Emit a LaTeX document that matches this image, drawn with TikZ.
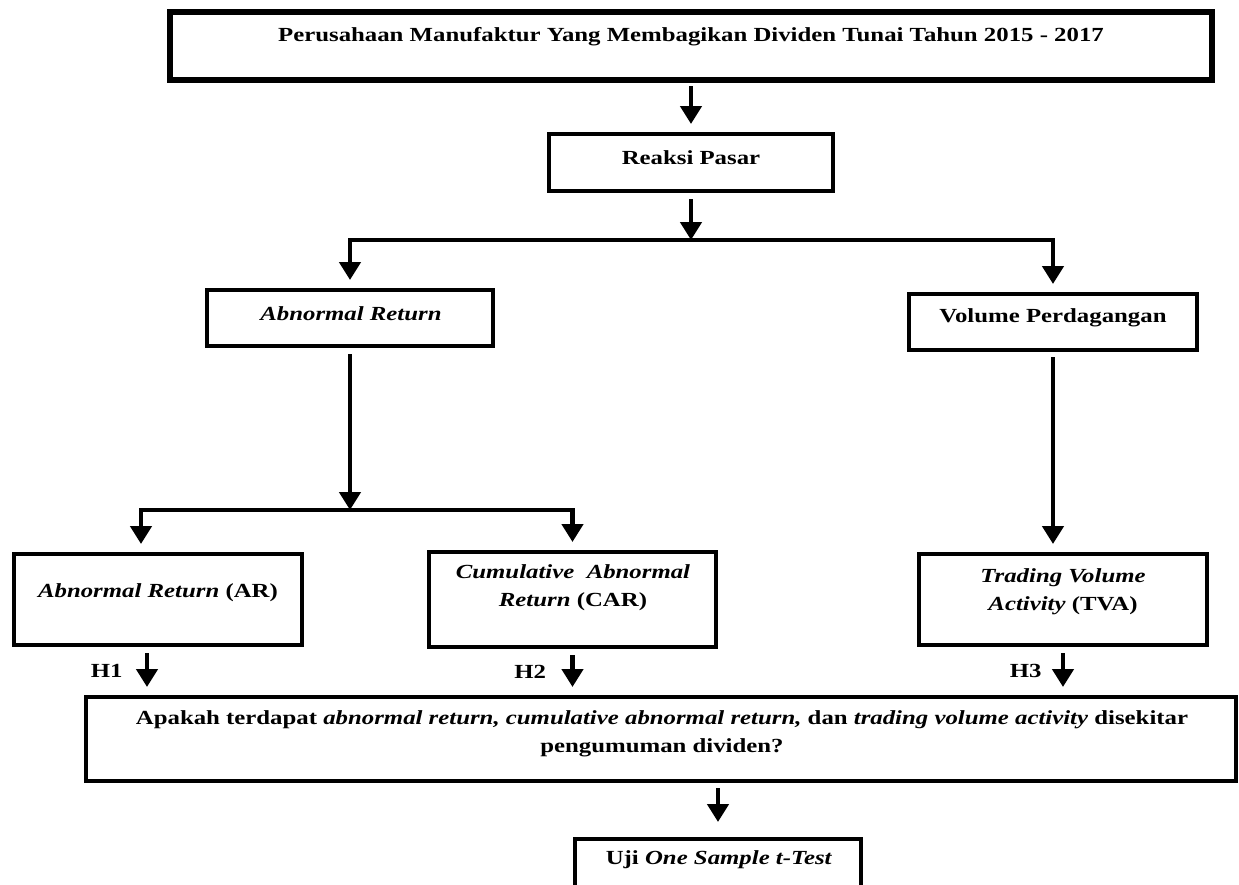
\documentclass[tikz,border=0pt]{standalone}
\usepackage{fontspec}
\setmainfont{Liberation Serif}[FakeStretch=1.24]
\usetikzlibrary{arrows.meta, positioning}

\begin{document}
\begin{tikzpicture}[x=0.5pt, y=-0.5pt,
    kotak/.style 2 args={draw, line width=2.2pt, minimum width=#1, minimum height=#2, inner sep=0pt, outer sep=0pt},
    teks/.style={font=\fontsize{10}{14}\selectfont\bfseries, align=center, inner sep=0pt},
    panah/.style={line width=2.4pt, -{Triangle[width=10.5pt,length=9pt]}, shorten >=5pt},
    hlabel/.style={font=\fontsize{10}{14}\selectfont\bfseries, inner sep=0pt}]

    % Frame of the picture
    \useasboundingbox (0,0) rectangle (1239,885);
    \clip (0,0) rectangle (1239,885);

    % Boxes
    \node[kotak={521pt}{34pt}, line width=3pt] (top) at (691,46) {};
    \node[kotak={142pt}{28.5pt}] (reaksi) at (691,162.5) {};
    \node[kotak={143pt}{28pt}] (abn) at (350,318) {};
    \node[kotak={144pt}{28pt}] (vol) at (1053,322) {};
    \node[kotak={144pt}{45.5pt}] (ar) at (158,599.5) {};
    \node[kotak={143.5pt}{47.5pt}] (car) at (572.5,599.5) {};
    \node[kotak={144pt}{45.5pt}] (tva) at (1063,599.5) {};
    \node[kotak={575pt}{42pt}] (quest) at (661,739) {};
    \node[kotak={143pt}{35pt}] (uji) at (718,874) {};

    % Texts in the boxes
    \node[teks] (topteks) at (691,37) {Perusahaan Manufaktur Yang Membagikan Dividen Tunai Tahun 2015 - 2017};
    \node[teks] (reaksiteks) at (691,158) {Reaksi Pasar};
    \node[teks] (abnteks) at (351,314) {\textit{Abnormal Return}};
    \node[teks] (volteks) at (1053,318) {Volume Perdagangan};
    \node[teks] (arteks) at (158,593) {\textit{Abnormal Return} (AR)};
    \node[teks] (carteks) at (573,588) {\textit{Cumulative\ \ Abnormal}\\\textit{Return} (CAR)};
    \node[teks] (tvateks) at (1063,592) {\textit{Trading Volume}\\\textit{Activity} (TVA)};
    \node[teks] (questteks) at (662,734) {Apakah terdapat \textit{abnormal return, cumulative abnormal return,} dan \textit{trading volume activity} disekitar\\pengumuman dividen?};
    \node[teks] (ujiteks) at (719,860) {Uji \textit{One Sample t-Test}};

    % Branch points
    \coordinate (cabang1) at (691,240);
    \coordinate (cabang2) at (350,510);

    % Arrows
    \draw[panah, shorten <=3pt] (top) -- (reaksi);
    \draw[panah, shorten <=4pt, shorten >=0pt] (reaksi) -- (cabang1);
    \draw[panah] (cabang1) -| (abn);
    \draw[panah] (cabang1) -| (vol);
    \draw[panah, shorten <=4pt, shorten >=0pt] (abn) -- (cabang2);
    \draw[panah] (cabang2) -| ([xshift=-8.5pt]ar.north);
    \draw[panah] (cabang2) -| (car);
    \draw[panah, shorten <=3.5pt] (vol) -- (vol |- tva.north);

    % Hypotheses
    \draw[panah, shorten <=4pt] ([xshift=-5.5pt]ar.south) -- node[hlabel, left=11pt] (h1) {H1} ([xshift=-5.5pt]ar.south |- quest.north);
    \draw[panah, shorten <=4pt] (car) -- node[hlabel, left=12pt] (h2) {H2} (car |- quest.north);
    \draw[panah, shorten <=4pt] (tva) -- node[hlabel, left=9.5pt] (h3) {H3} (tva |- quest.north);

    \draw[panah, shorten <=3.5pt, shorten >=8.5pt] (quest.south -| uji) -- (uji);
\end{tikzpicture}
\end{document}
